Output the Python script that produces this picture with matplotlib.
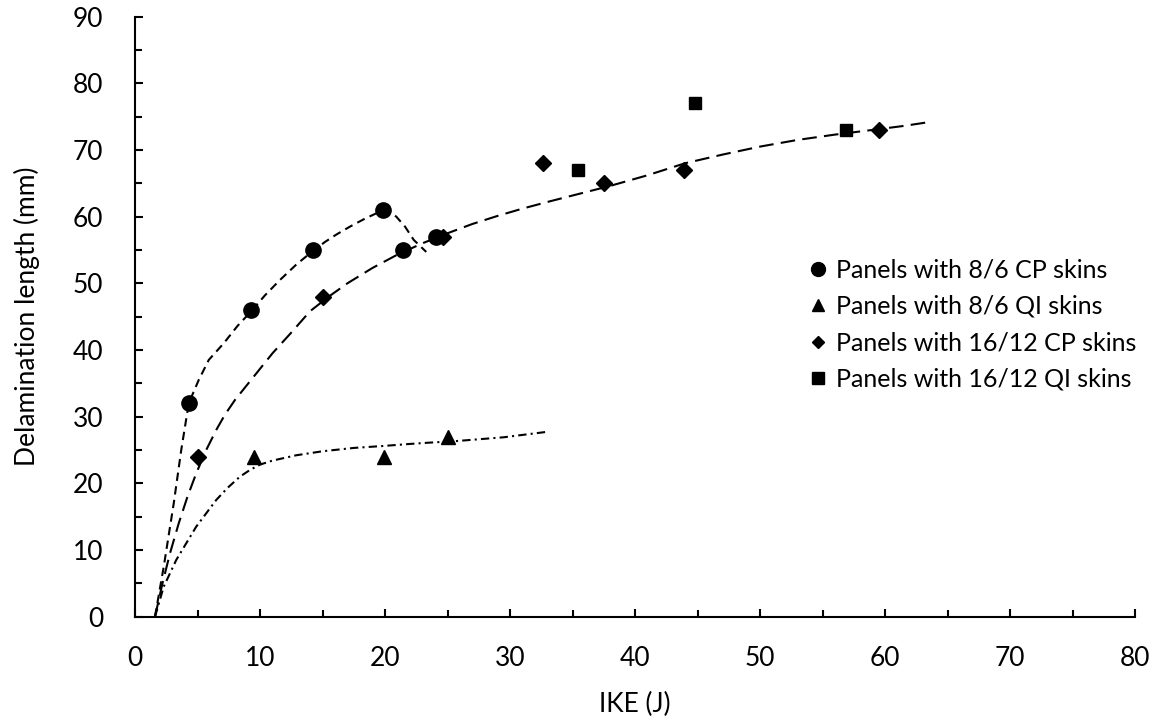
import matplotlib
matplotlib.use("Agg")
import matplotlib.pyplot as plt
from matplotlib.lines import Line2D

plt.rcParams['font.family'] = ['Lato', 'DejaVu Sans']

# measured points
cp86_x = [4.3, 9.3, 14.2, 19.8, 21.4, 24.1]
cp86_y = [32, 46, 55, 61, 55, 57]
qi86_x = [9.5, 19.9, 25.0]
qi86_y = [24, 24, 27]
cp1612_x = [5.0, 15.0, 24.6, 32.6, 37.5, 43.9, 59.5]
cp1612_y = [24, 48, 57, 68, 65, 67, 73]
qi1612_x = [35.4, 44.8, 56.9]
qi1612_y = [67, 77, 73]

# trend curves
trend_cp86_x = [1.6, 2.3, 3.1, 3.7, 4.3, 5.1, 5.9, 7.1, 8.2, 9.3, 10.4, 11.6,
                12.9, 14.2, 15.2, 16.1, 17.2, 18.3, 19.2, 19.8, 20.4, 20.9,
                21.6, 22.3, 23.3]
trend_cp86_y = [0, 7.5, 17, 25, 32, 35.5, 38.5, 41, 43.6, 45.8, 48.2, 50.5,
                52.8, 54.8, 56.2, 57.3, 58.5, 59.6, 60.4, 60.8, 60.6, 60,
                58.5, 56.5, 54.7]
trend_1612_x = [1.6, 2.2, 2.8, 3.5, 4.2, 4.9, 5.7, 6.5, 7.2, 8.0, 9.5, 11.0,
                12.5, 14.0, 15.5, 17.0, 19.0, 21.0, 23.0, 25.0, 27.0, 29.0,
                31.0, 33.0, 35.5, 38.0, 41.0, 44.0, 47.0, 50.0, 53.0, 56.0,
                59.0, 61.5, 63.6]
trend_1612_y = [0, 5.0, 9.5, 14.0, 18.0, 21.5, 25.0, 28.0, 30.3, 32.5, 36.0, 39.5,
                42.6, 45.8, 48.0, 50.0, 52.3, 54.3, 56.0, 57.5, 58.9, 60.1,
                61.2, 62.2, 63.4, 64.6, 66.2, 68.0, 69.3, 70.5, 71.5, 72.3,
                73.0, 73.6, 74.2]
trend_qi86_x = [1.6, 2.3, 3.3, 4.1, 4.9, 5.7, 6.5, 7.4, 8.4, 9.2, 10.0, 11.0,
                12.9, 15.0, 17.5, 19.9, 22.0, 23.6, 25.5, 27.5, 29.5, 31.2, 32.9]
trend_qi86_y = [0, 4.5, 8.5, 11.0, 13.5, 15.5, 17.5, 19.3, 21.0, 22.0, 22.8, 23.4,
                24.2, 24.8, 25.3, 25.6, 25.9, 26.1, 26.3, 26.6, 26.9, 27.3, 27.7]

fig = plt.figure(figsize=(11.63, 7.22), dpi=100)
ax = fig.add_axes([135/1163, 1 - 616.6/722, 1000/1163, 600/722])

ax.plot(trend_cp86_x, trend_cp86_y, color='black', lw=1.5, dashes=(4, 2.6))
ax.plot(trend_1612_x, trend_1612_y, color='black', lw=1.5, dashes=(7, 3.5))
ax.plot(trend_qi86_x, trend_qi86_y, color='black', lw=1.5, dashes=(4, 2, 1, 2))

ax.plot(cp86_x, cp86_y, 'o', color='black', ms=11, ls='none', zorder=3)
ax.plot(qi86_x, qi86_y, '^', color='black', ms=10.5, ls='none', zorder=3)
ax.plot(cp1612_x, cp1612_y, 'D', color='black', ms=7.8, ls='none', zorder=3)
ax.plot(qi1612_x, qi1612_y, 's', color='black', ms=8.6, ls='none', zorder=3)

ax.set_xlim(0, 80)
ax.set_ylim(0, 90)
ax.set_xticks(range(0, 81, 10))
ax.set_xticks(range(5, 80, 10), minor=True)
ax.set_yticks(range(0, 91, 10))
ax.set_yticks(range(5, 90, 10), minor=True)
ax.spines['top'].set_visible(False)
ax.spines['right'].set_visible(False)
ax.spines['left'].set_linewidth(1.5)
ax.spines['bottom'].set_linewidth(1.5)
ax.tick_params(which='both', direction='in', width=1.5, labelsize=19)
ax.tick_params(which='major', length=6)
ax.tick_params(which='minor', length=5)
ax.tick_params(axis='x', which='major', pad=21)
ax.tick_params(axis='y', which='major', pad=23)

ax.set_xlabel('IKE (J)', fontsize=19, va='center')
ax.xaxis.set_label_coords(0.5, -0.147)
ax.set_ylabel('Delamination length (mm)', fontsize=19, va='center')
ax.yaxis.set_label_coords(-0.108, 0.5)

handles = [
    Line2D([], [], marker='o', color='black', ls='none', ms=10),
    Line2D([], [], marker='^', color='black', ls='none', ms=9),
    Line2D([], [], marker='D', color='black', ls='none', ms=6.5),
    Line2D([], [], marker='s', color='black', ls='none', ms=8),
]
labels = ['Panels with 8/6 CP skins', 'Panels with 8/6 QI skins',
          'Panels with 16/12 CP skins', 'Panels with 16/12 QI skins']
ax.legend(handles, labels, loc='upper left', bbox_to_anchor=(0.673, 0.597),
          frameon=False, fontsize=18, handlelength=0.8, handletextpad=0.3,
          borderpad=0, borderaxespad=0, labelspacing=0.54)

fig.savefig('out.png', dpi=100)
